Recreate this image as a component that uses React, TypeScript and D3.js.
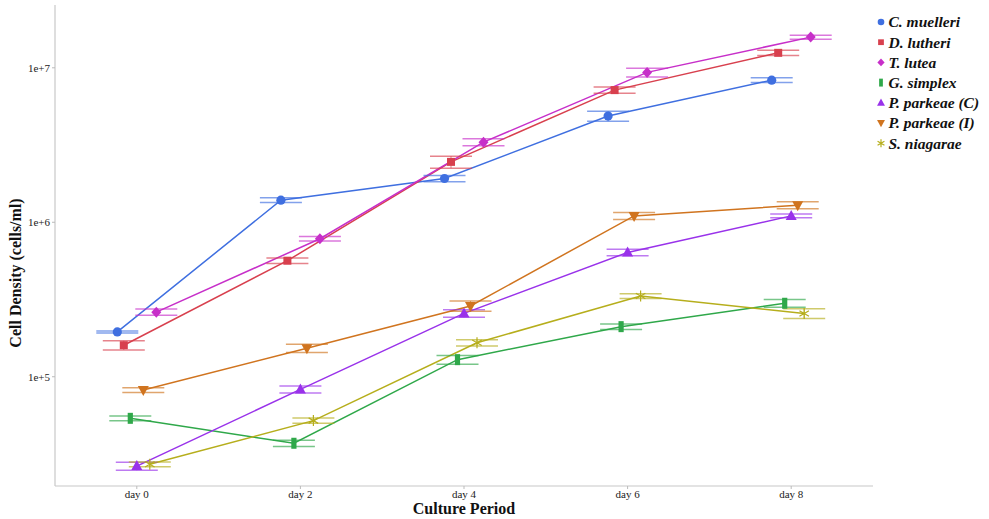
import React from "react";
import * as d3 from "d3";

const days = ["day 0", "day 2", "day 4", "day 6", "day 8"];
const yTicks = [1e5, 1e6, 1e7];
const yTickLabels = ["1e+5", "1e+6", "1e+7"];

const species = [
  "C. muelleri",
  "D. lutheri",
  "T. lutea",
  "G. simplex",
  "P. parkeae (C)",
  "P. parkeae (I)",
  "S. niagarae",
];
// dodge order (alphabetical)
const dodgeOrder = [
  "C. muelleri",
  "D. lutheri",
  "G. simplex",
  "P. parkeae (C)",
  "P. parkeae (I)",
  "S. niagarae",
  "T. lutea",
];
const colors = ["#3f6fe0", "#d8404e", "#c72fc9", "#2fa84a", "#9932ea", "#d0741f", "#b6ae1c"];
const shapes = ["circle", "square", "diamond", "bar", "triUp", "triDown", "star"];

const cMuelleri = [1.95e5, 1.39e6, 1.92e6, 4.87e6, 8.32e6];
const dLutheri = [1.6e5, 5.64e5, 2.46e6, 7.17e6, 1.25e7];
const tLutea = [2.62e5, 7.82e5, 3.3e6, 9.34e6, 1.58e7];
const gSimplex = [5.38e4, 3.71e4, 1.29e5, 2.11e5, 2.99e5];
const pParkeaeC = [2.64e4, 8.28e4, 2.57e5, 6.38e5, 1.1e6];
const pParkeaeI = [8.2e4, 1.53e5, 2.87e5, 1.1e6, 1.29e6];
const sNiagarae = [2.71e4, 5.2e4, 1.66e5, 3.33e5, 2.57e5];

const cMuelleriErr = [3e3, 4.9e4, 8.8e4, 3.6e5, 2.9e5];
const dLutheriErr = [1.1e4, 2.3e4, 2.2e5, 3.3e5, 5.1e5];
const tLuteaErr = [1.2e4, 2.7e4, 1.75e5, 6.1e5, 4.7e5];
const gSimplexErr = [1.9e3, 1.7e3, 8.4e3, 8.7e3, 1.7e4];
const pParkeaeCErr = [1.6e3, 4.4e3, 1.46e4, 3.1e4, 3.0e4];
const pParkeaeIErr = [2.9e3, 9.3e3, 2.2e4, 5.8e4, 6.8e4];
const sNiagaraeErr = [1.0e3, 2.0e3, 7.6e3, 1.17e4, 1.9e4];

const seriesValues = [cMuelleri, dLutheri, tLutea, gSimplex, pParkeaeC, pParkeaeI, sNiagarae];
const seriesErrors = [cMuelleriErr, dLutheriErr, tLuteaErr, gSimplexErr, pParkeaeCErr, pParkeaeIErr, sNiagaraeErr];

const W = 989;
const H = 519;
const left = 55;
const right = 873;
const top = 5;
const bottom = 486;

function Marker({ shape, x, y, color, scale = 1 }: { shape: string; x: number; y: number; color: string; scale?: number }) {
  const s = scale;
  switch (shape) {
    case "circle":
      return <circle cx={x} cy={y} r={4.6 * s} fill={color} />;
    case "square":
      return <rect x={x - 4 * s} y={y - 4 * s} width={8 * s} height={8 * s} fill={color} />;
    case "diamond":
      return <path d={`M${x},${y - 5.5 * s}L${x + 5 * s},${y}L${x},${y + 5.5 * s}L${x - 5 * s},${y}Z`} fill={color} />;
    case "bar":
      return <rect x={x - 2.6 * s} y={y - 5.5 * s} width={5.2 * s} height={11 * s} fill={color} />;
    case "triUp":
      return <path d={`M${x},${y - 6 * s}L${x + 5.5 * s},${y + 4 * s}L${x - 5.5 * s},${y + 4 * s}Z`} fill={color} />;
    case "triDown":
      return <path d={`M${x},${y + 6 * s}L${x + 5.5 * s},${y - 4 * s}L${x - 5.5 * s},${y - 4 * s}Z`} fill={color} />;
    case "star": {
      const r = 5.5 * s;
      const lines = [0, 60, 120].map((a) => {
        const t = (a * Math.PI) / 180;
        return `M${x - r * Math.sin(t)},${y - r * Math.cos(t)}L${x + r * Math.sin(t)},${y + r * Math.cos(t)}`;
      });
      return <path d={lines.join("")} stroke={color} strokeWidth={1.2} fill="none" />;
    }
    default:
      return null;
  }
}

export default function App() {
  const x = d3.scalePoint<string>().domain(days).range([left, right]).padding(0.5);
  const dodge = d3.scalePoint<string>().domain(dodgeOrder).range([-19.5, 19.5]);
  const y = d3.scaleLog().domain([1.962e4, 2.55e7]).range([bottom, top]);

  const line = d3
    .line<[number, number]>()
    .x((d) => d[0])
    .y((d) => d[1]);

  return (
    <svg width={W} height={H} style={{ position: "absolute", left: 0, top: 0, background: "#fff" }} fontFamily="'Liberation Serif', serif">
      <rect width={W} height={H} fill="#fff" />
      {/* axes */}
      <line x1={left} x2={left} y1={top} y2={bottom} stroke="#c8c8c8" strokeWidth={1.2} />
      <line x1={left} x2={right} y1={bottom} y2={bottom} stroke="#c8c8c8" strokeWidth={1.2} />
      {yTicks.map((t, i) => (
        <g key={t}>
          <line x1={left - 3} x2={left} y1={y(t)} y2={y(t)} stroke="#bbb" />
          <text x={left - 5} y={y(t)} dy="0.35em" textAnchor="end" fontSize={11} fill="#222">
            {yTickLabels[i]}
          </text>
        </g>
      ))}
      {days.map((d) => (
        <g key={d}>
          <line x1={x(d)!} x2={x(d)!} y1={bottom} y2={bottom + 3} stroke="#bbb" />
          <text x={x(d)!} y={bottom + 12} textAnchor="middle" fontSize={11} fill="#222">
            {d}
          </text>
        </g>
      ))}
      <text x={464} y={514} textAnchor="middle" fontSize={16} fontWeight="bold" fill="#111">
        Culture Period
      </text>
      <text transform={`translate(21,${273}) rotate(-90)`} textAnchor="middle" fontSize={16} fontWeight="bold" fill="#111">
        Cell Density (cells/ml)
      </text>

      {/* series lines */}
      {species.map((sp, si) => {
        const off = dodge(sp)!;
        const pts = seriesValues[si].map((v, i) => [x(days[i])! + off, y(v)] as [number, number]);
        return <path key={sp} d={line(pts)!} fill="none" stroke={colors[si]} strokeWidth={1.5} />;
      })}

      {/* error bars */}
      {species.map((sp, si) => {
        const off = dodge(sp)!;
        return (
          <g key={sp} stroke={colors[si]} strokeOpacity={0.65} strokeWidth={1.5}>
            {seriesValues[si].map((v, i) => {
              const cx = x(days[i])! + off;
              const e = seriesErrors[si][i];
              const y1 = y(v + e);
              const y2 = y(v - e);
              return (
                <g key={i}>
                  <line x1={cx} x2={cx} y1={y1} y2={y2} strokeWidth={1} />
                  <line x1={cx - 21} x2={cx + 21} y1={y1} y2={y1} />
                  <line x1={cx - 21} x2={cx + 21} y1={y2} y2={y2} />
                </g>
              );
            })}
          </g>
        );
      })}

      {/* markers */}
      {species.map((sp, si) => {
        const off = dodge(sp)!;
        return (
          <g key={sp}>
            {seriesValues[si].map((v, i) => (
              <Marker key={i} shape={shapes[si]} x={x(days[i])! + off} y={y(v)} color={colors[si]} />
            ))}
          </g>
        );
      })}

      {/* legend */}
      {species.map((sp, si) => {
        const ly = 22 + si * 20.2;
        return (
          <g key={sp}>
            <Marker shape={shapes[si]} x={881} y={ly} color={colors[si]} scale={0.72} />
            <text x={888.5} y={ly} dy="0.35em" fontSize={15.5} fontWeight="bold" fontStyle="italic" fill="#111">
              {sp}
            </text>
          </g>
        );
      })}
    </svg>
  );
}
